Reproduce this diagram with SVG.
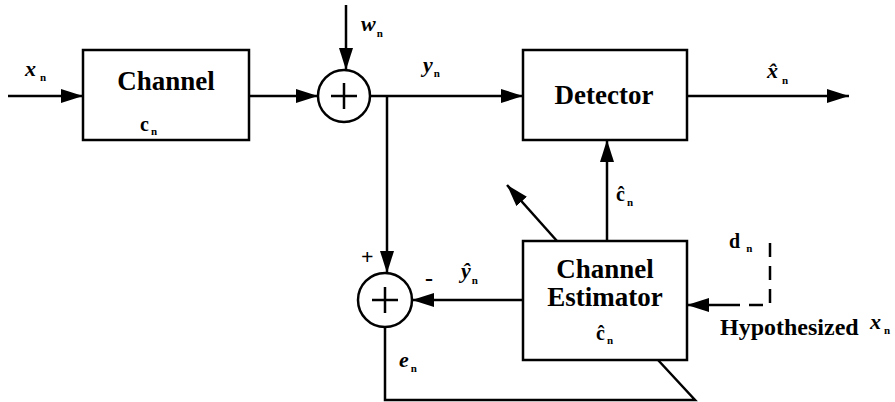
<svg xmlns="http://www.w3.org/2000/svg" width="895" height="402" viewBox="0 0 895 402">
<style>
.box{fill:#fff;stroke:#000;stroke-width:2.5}
.ln{fill:none;stroke:#000;stroke-width:2.5}
.dash{fill:none;stroke:#000;stroke-width:2.5;stroke-dasharray:14,9}
text{font-family:'Liberation Serif','DejaVu Serif',serif;font-weight:bold;fill:#000}
.big{font-size:27px}
.m{font-style:italic;font-size:22px}
.s{font-size:11px;font-style:normal}
.c{font-size:20px}
</style>
<defs>
<marker id="ah" markerWidth="22" markerHeight="14" refX="22" refY="7" orient="auto" markerUnits="userSpaceOnUse">
<path d="M0,0 L22,7 L0,14 Z" fill="#000"/>
</marker>
</defs>
<rect width="895" height="402" fill="#fff"/>
<g id="connectors">
<line class="ln" x1="8" y1="96" x2="83" y2="96" marker-end="url(#ah)"/>
<line class="ln" x1="249" y1="96" x2="318" y2="96" marker-end="url(#ah)"/>
<line class="ln" x1="346" y1="5" x2="346" y2="70" marker-end="url(#ah)"/>
<line class="ln" x1="371" y1="96" x2="523" y2="96" marker-end="url(#ah)"/>
<line class="ln" x1="687" y1="96" x2="849" y2="96" marker-end="url(#ah)"/>
<line class="ln" x1="387" y1="96" x2="387" y2="273" marker-end="url(#ah)"/>
<line class="ln" x1="523" y1="300" x2="412" y2="300" marker-end="url(#ah)"/>
<line class="ln" x1="607" y1="241" x2="607" y2="140" marker-end="url(#ah)"/>
<line class="ln" x1="557" y1="241" x2="507" y2="185" marker-end="url(#ah)"/>
<polyline class="ln" points="385,327 385,400 695,400 658,360"/>
<polyline class="dash" points="770,243 770,305 730,305"/>
<line class="ln" x1="730" y1="305" x2="687" y2="305" marker-end="url(#ah)"/>
</g>
<g id="channel">
<rect class="box" x="83" y="50" width="166" height="90"/>
<text class="big" x="166" y="90" text-anchor="middle" font-family="Liberation Serif">Channel</text>
<text class="c" x="140" y="131">c<tspan class="s" dy="4" dx="2">n</tspan></text>
</g>
<g id="sum1">
<circle class="box" cx="344" cy="96" r="26"/>
<path class="ln" d="M331,96 H357 M344,83 V109" stroke-width="4"/>
</g>
<g id="detector">
<rect class="box" x="523" y="50" width="164" height="90"/>
<text class="big" x="604" y="104" text-anchor="middle">Detector</text>
</g>
<g id="sum2">
<circle class="box" cx="385" cy="300" r="27"/>
<path class="ln" d="M372,300 H398 M385,287 V313" stroke-width="4"/>
</g>
<g id="estimator">
<rect class="box" x="523" y="241" width="164" height="119"/>
<text class="big" x="605" y="278" text-anchor="middle">Channel</text>
<text class="big" x="605" y="306" text-anchor="middle">Estimator</text>
<text class="c" x="596" y="340">ĉ<tspan class="s" dy="4" dx="2">n</tspan></text>
</g>
<g id="labels">
<text class="m" x="25" y="76">x<tspan class="s" dy="5" dx="4">n</tspan></text>
<text class="m" x="361" y="31">w<tspan class="s" dy="6" dx="1">n</tspan></text>
<text class="m" x="423" y="72">y<tspan class="s" dy="5" dx="1">n</tspan></text>
<text class="m" x="767" y="78">x&#x302;<tspan class="s" dy="6" dx="4">n</tspan></text>
<text class="c" x="616" y="201">ĉ<tspan class="s" dy="5" dx="2">n</tspan></text>
<text class="m" x="461" y="278">ŷ<tspan class="s" dy="6" dx="1">n</tspan></text>
<text class="m" x="399" y="367">e<tspan class="s" dy="5" dx="2">n</tspan></text>
<text class="c" x="729" y="248">d<tspan class="s" dy="4" dx="6">n</tspan></text>
<text x="361" y="264" font-size="22">+</text>
<text x="425" y="286" font-size="24">-</text>
<text x="720" y="335" font-size="24">Hypothesized</text>
<text class="m" x="870" y="329">x<tspan class="s" dy="5" dx="3">n</tspan></text>
</g>
</svg>
